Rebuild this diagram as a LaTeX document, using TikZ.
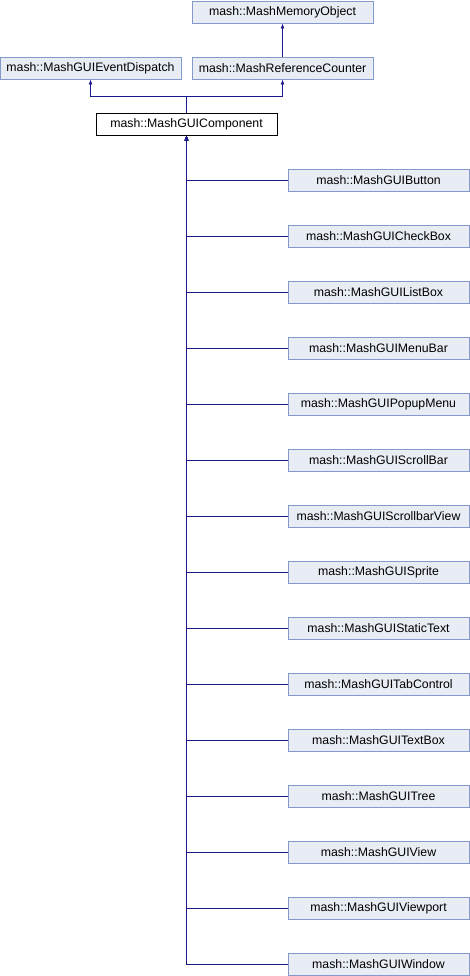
\documentclass[tikz,border=0pt]{standalone}
\usepackage{fontspec}
\setmainfont{Liberation Sans}
\usetikzlibrary{arrows.meta, positioning}
\definecolor{fondoclase}{RGB}{232,236,244}
\definecolor{bordeclase}{RGB}{132,154,203}
\definecolor{azulflecha}{RGB}{25,25,140}
\tikzstyle{clase} = [draw=bordeclase, fill=fondoclase, rectangle, minimum width=181pt, minimum height=22.5pt, inner sep=0pt, font=\fontsize{12.3}{14}\selectfont]
\tikzstyle{actual} = [clase, draw=black, fill=white]
\tikzstyle{herencia} = [draw=azulflecha, line width=0.8pt, -{Latex[length=5pt,width=4pt]}]

\begin{document}
\begin{tikzpicture}[x=1pt,y=-1pt]
	\useasboundingbox (0,0) rectangle (470,976);
	\node[clase] (memoria) at (282.5,12) {mash::MashMemoryObject};
	\node[clase] (despacho) at (90.5,68) {mash::MashGUIEventDispatch};
	\node[clase] (contador) at (282.5,68) {mash::MashReferenceCounter};
	\node[actual] (componente) at (186.5,124) {mash::MashGUIComponent};
	\coordinate (union) at (186.5,96);
	\draw[herencia] (contador.north) -- (memoria.south);
	\draw[herencia] (componente.north) -- (union) -| (despacho.south);
	\draw[herencia] (componente.north) -- (union) -| (contador.south);
	% clases derivadas
	\foreach \nombre/\clase [count=\i from 0] in {boton/Button, casilla/CheckBox, lista/ListBox, menu/MenuBar, emergente/PopupMenu, barra/ScrollBar, vistabarra/ScrollbarView, sprite/Sprite, texto/StaticText, pestanas/TabControl, caja/TextBox, arbol/Tree, vista/View, ventanilla/Viewport, ventana/Window}{
		\node[clase] (\nombre) at (378.5,{180+56*\i}) {mash::MashGUI\clase};
		\draw[herencia] (\nombre.west) -| (componente.south);
	}
\end{tikzpicture}
\end{document}
